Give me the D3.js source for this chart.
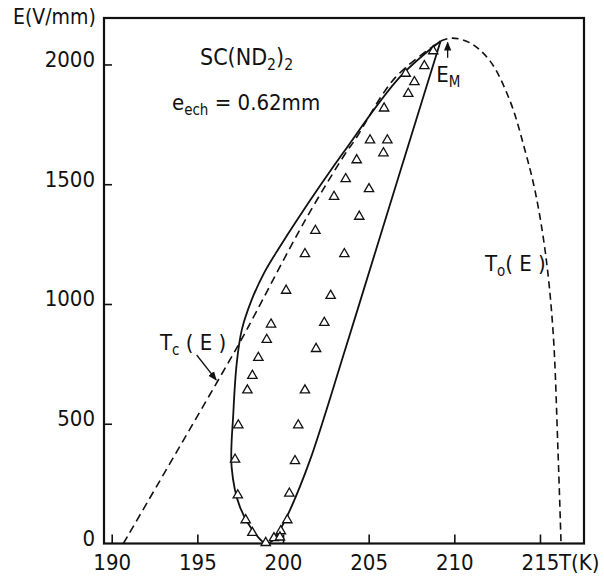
<!DOCTYPE html>
<html>
<head>
<meta charset="utf-8">
<script src="https://cdn.jsdelivr.net/npm/d3@7"></script>
<style>
  html, body { margin: 0; padding: 0; background: #fff; }
  svg { display: block; }
  text { font-family: 'DejaVu Sans Condensed', 'DejaVu Sans', sans-serif; font-stretch: condensed; fill: #111; }
</style>
</head>
<body>
<svg id="chart" width="604" height="578"></svg>
<script>
// ---- Data ----
const xTicks = [190, 195, 200, 205, 210, 215];
const yTicks = [0, 500, 1000, 1500, 2000];

// Solid hysteresis loop (T in K, E in V/mm), from E_M down the left branch, round the bottom, up the right branch
const loopT = [209.2, 206.83, 203.5, 200.82, 199.77, 198.89, 198.17, 197.59, 197.30, 197.10, 197.0, 197.49, 198.54, 199.0, 199.4, 199.82, 200.41, 201.58, 203.62, 205.66, 207.41, 209.2];
const loopE = [2098, 1948, 1630, 1351, 1234, 1129, 1017, 891, 754, 545, 319, 152, 27, 0, 12, 56, 140, 349, 808, 1280, 1685, 2098];

// Dashed T_c(E) line
const tcT = [190.68, 197.49, 198.17, 201.28, 203.62, 204.2, 206.55, 209.2];
const tcE = [0, 841, 931, 1348, 1626, 1685, 1945, 2098];

// Dashed T_o(E) curve
const toT = [209.2, 209.87, 210.92, 212.08, 213.25, 214.13, 214.71, 215.3, 215.76, 216.05, 216.23];
const toE = [2098, 2110, 2090, 2015, 1848, 1640, 1473, 1223, 890, 390, 0];

// Measured points (triangles)
const ptT = [199.30, 202.41, 199.05, 201.93, 198.56, 198.21, 197.92, 201.28, 197.39, 200.89,
             197.20, 200.70, 197.36, 200.37, 197.82, 200.25, 198.21, 199.87, 198.99, 199.47,
             199.82, 205.08, 206.09, 205.86, 204.30, 203.66, 205.02, 202.98, 204.45, 201.89,
             201.28, 203.58, 200.18, 202.78, 208.77, 208.25, 207.16, 207.67, 207.31, 205.90];
const ptE = [915, 922, 851, 813, 776, 701, 640, 640, 494, 494,
             351, 345, 202, 209, 98, 98, 45, 52, 3, 23,
             26, 1684, 1684, 1630, 1601, 1522, 1480, 1448, 1365, 1306,
             1209, 1209, 1056, 1035, 2056, 1994, 1962, 1927, 1878, 1817];

// ---- Drawing ----
const svg = d3.select('#chart');
const pL = 104, pR = 584, pT = 18, pB = 543.5;
const x = d3.scaleLinear().domain([189.55, 217.57]).range([pL, pR]);
const y = d3.scaleLinear().domain([0, 2194]).range([pB, pT]);

// defs: arrowhead
svg.append('defs').append('marker')
  .attr('id', 'ah').attr('viewBox', '0 0 10 10').attr('refX', 9).attr('refY', 5)
  .attr('markerWidth', 7).attr('markerHeight', 7).attr('orient', 'auto')
  .append('path').attr('d', 'M0,1 L10,5 L0,9 Z').attr('fill', '#111');

// Axes
const gx = svg.append('g').attr('transform', `translate(0,${pB})`)
  .call(d3.axisBottom(x).tickValues(xTicks).tickSize(-9).tickFormat(d3.format('d')));
gx.select('.domain').remove();
gx.selectAll('.tick line').attr('stroke', '#111').attr('stroke-width', 1.6);
gx.selectAll('.tick text').attr('y', 26.5).attr('dy', 0).attr('font-size', 22);

const gy = svg.append('g').attr('transform', `translate(${pL},0)`)
  .call(d3.axisLeft(y).tickValues(yTicks).tickSize(-8).tickPadding(9).tickFormat(d3.format('d')));
gy.select('.domain').remove();
gy.selectAll('.tick line').attr('stroke', '#111').attr('stroke-width', 1.6)
  .filter(d => d === 0).remove();
gy.selectAll('.tick text').attr('dy', 2).attr('font-size', 22);
svg.selectAll('g').attr('font-family', null).attr('font-size', null);

// Frame
svg.append('rect').attr('x', pL).attr('y', pT).attr('width', pR - pL).attr('height', pB - pT)
  .attr('fill', 'none').attr('stroke', '#111').attr('stroke-width', 2.2);

// Axis titles
svg.append('text').attr('x', 13).attr('y', 24).attr('font-size', 21).text('E(V/mm)');
svg.append('text').attr('x', x(215) + 19).attr('y', pB + 26.5).attr('font-size', 22).text('T(K)');

// Curves
const lineOf = (T, E) => d3.line().curve(d3.curveCatmullRom.alpha(0.5))
  .x(i => x(T[i])).y(i => y(E[i]))(d3.range(T.length));

svg.append('path').attr('d', lineOf(loopT, loopE))
  .attr('fill', 'none').attr('stroke', '#111').attr('stroke-width', 1.8);
svg.append('path').attr('d', lineOf(tcT, tcE))
  .attr('fill', 'none').attr('stroke', '#111').attr('stroke-width', 1.6).attr('stroke-dasharray', '8,5');
svg.append('path').attr('d', lineOf(toT, toE))
  .attr('fill', 'none').attr('stroke', '#111').attr('stroke-width', 1.6).attr('stroke-dasharray', '7,4.5');

// Triangles
svg.append('g').selectAll('path').data(d3.range(ptT.length)).join('path')
  .attr('transform', i => `translate(${x(ptT[i])},${y(ptE[i])})`)
  .attr('d', d3.symbol(d3.symbolTriangle, 38))
  .attr('fill', '#fff').attr('stroke', '#111').attr('stroke-width', 1.3);

// Annotations
const sub = (t, parts, size) => {
  parts.forEach(p => {
    const ts = t.append('tspan').text(p.s);
    if (p.sub) ts.attr('font-size', size * 0.68).attr('dy', p.dy);
    else if (p.dy) ts.attr('dy', p.dy);
  });
};
let t1 = svg.append('text').attr('x', 200).attr('y', 65).attr('font-size', 23);
sub(t1, [{s: 'SC(ND'}, {s: '2', sub: true, dy: 5}, {s: ')', dy: -5}, {s: '2', sub: true, dy: 5}], 23);

let t2 = svg.append('text').attr('x', 172).attr('y', 110).attr('font-size', 22);
sub(t2, [{s: 'e'}, {s: 'ech', sub: true, dy: 5}, {s: ' = 0.62mm', dy: -5}], 22);

let t3 = svg.append('text').attr('x', x(192.82)).attr('y', y(808)).attr('font-size', 22);
sub(t3, [{s: 'T'}, {s: 'c', sub: true, dy: 5}, {s: ' ( E )', dy: -5}], 22);

let t4 = svg.append('text').attr('x', x(211.79)).attr('y', y(1137)).attr('font-size', 22);
sub(t4, [{s: 'T'}, {s: 'o', sub: true, dy: 5}, {s: '( E )', dy: -5}], 22);

let t5 = svg.append('text').attr('x', x(208.95)).attr('y', y(1927)).attr('font-size', 22);
sub(t5, [{s: 'E'}, {s: 'M', sub: true, dy: 5}], 22);

// Arrows
svg.append('line').attr('x1', x(194.96)).attr('y1', y(787)).attr('x2', x(196.1)).attr('y2', y(683))
  .attr('stroke', '#111').attr('stroke-width', 1.3).attr('marker-end', 'url(#ah)');
svg.append('line').attr('x1', x(209.61)).attr('y1', y(2028)).attr('x2', x(209.61)).attr('y2', y(2092))
  .attr('stroke', '#111').attr('stroke-width', 1.3).attr('marker-end', 'url(#ah)');
</script>
</body>
</html>
